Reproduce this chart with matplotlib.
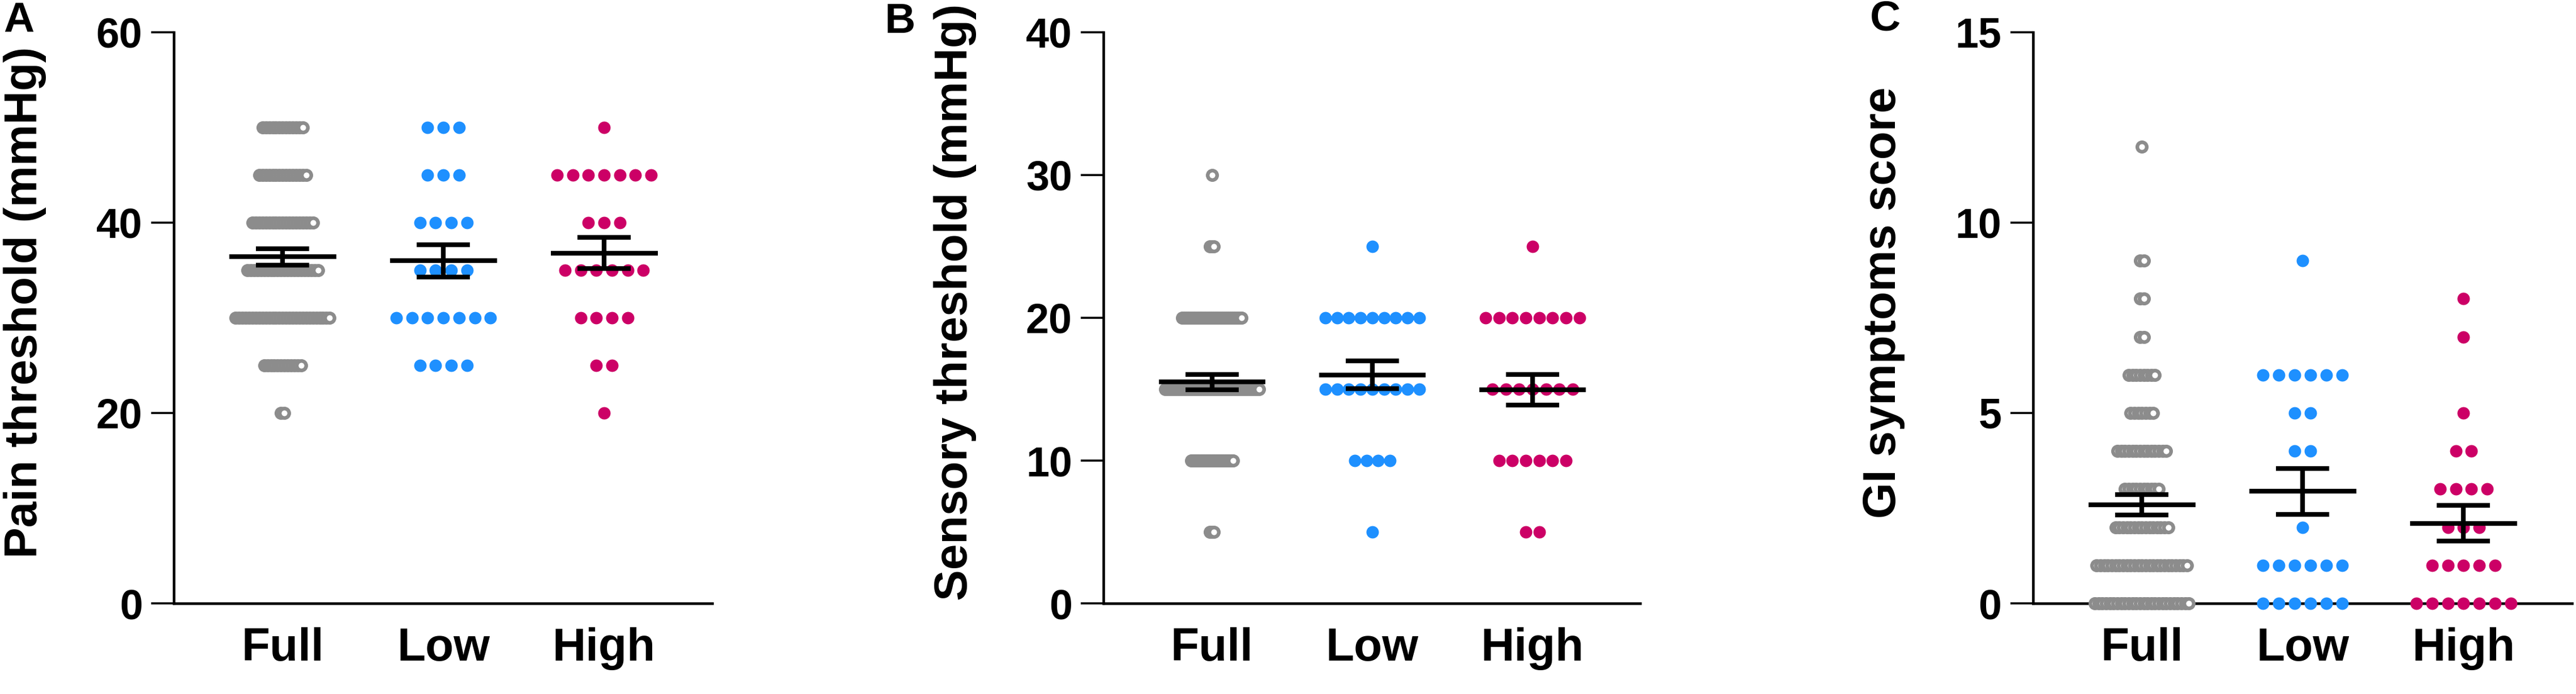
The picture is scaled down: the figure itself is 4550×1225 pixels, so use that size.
import numpy as np
import matplotlib
matplotlib.use("Agg")
import matplotlib.pyplot as plt

# group names on the x axis
groups = ["Full", "Low", "High"]

# panel A: pain threshold (mmHg), value levels and number of subjects per level
pain_levels_full = [50, 45, 40, 35, 30, 25, 20]
pain_counts_full = [13, 15, 19, 22, 29, 12, 2]
pain_levels_low = [50, 45, 40, 35, 30, 25]
pain_counts_low = [3, 3, 4, 4, 7, 4]
pain_levels_high = [50, 45, 40, 35, 30, 25, 20]
pain_counts_high = [1, 7, 3, 6, 4, 2, 1]
pain_mean = [36.4, 36.0, 36.8]
pain_sem = [0.85, 1.7, 1.65]

# panel B: sensory threshold (mmHg)
sens_levels_full = [30, 25, 20, 15, 10, 5]
sens_counts_full = [1, 3, 32, 50, 23, 3]
sens_levels_low = [25, 20, 15, 10, 5]
sens_counts_low = [1, 9, 9, 4, 1]
sens_levels_high = [25, 20, 15, 10, 5]
sens_counts_high = [1, 8, 7, 6, 2]
sens_mean = [15.5, 16.0, 14.95]
sens_sem = [0.55, 0.98, 1.08]

# panel C: GI symptoms score
gi_levels_full = [12, 9, 8, 7, 6, 5, 4, 3, 2, 1, 0]
gi_counts_full = [1, 2, 2, 2, 8, 7, 14, 10, 15, 25, 26]
gi_levels_low = [9, 6, 5, 4, 2, 1, 0]
gi_counts_low = [1, 6, 2, 2, 1, 6, 6]
gi_levels_high = [8, 7, 5, 4, 3, 2, 1, 0]
gi_counts_high = [1, 1, 1, 2, 4, 3, 5, 7]
gi_mean = [2.59, 2.94, 2.10]
gi_sem = [0.27, 0.6, 0.47]

gray = "#8c8c8c"
blue = "#1e90ff"
magenta = "#cc0066"

plt.rcParams['font.family'] = ['Liberation Sans', 'DejaVu Sans']
plt.rcParams['font.weight'] = 'bold'

BASE_STEP = 0.0985   # spacing of neighbouring points (data units)
MAX_SPAN = 0.585     # widest row allowed


def scatter_column(ax, xc, levels, counts, color, hollow):
    step = min(BASE_STEP, MAX_SPAN / max(max(counts) - 1, 1))
    xs, ys = [], []
    for lev, n in zip(levels, counts):
        off = (np.arange(n) - (n - 1) / 2) * step
        xs.extend(xc + off)
        ys.extend([lev] * n)
    if hollow:
        ax.plot(xs, ys, 'o', ms=12, mew=4.6, mec=color, mfc='white',
                ls='none', clip_on=False, zorder=3)
    else:
        ax.plot(xs, ys, 'o', ms=15.8, mew=0, mfc=color,
                ls='none', clip_on=False, zorder=3)


def mean_sem(ax, means, sems):
    x = np.arange(len(means))
    ax.hlines(means, x - 0.333, x + 0.333, colors='black', lw=6, zorder=4)
    ax.errorbar(x, means, yerr=sems, fmt='none', ecolor='black',
                elinewidth=6, capsize=34, capthick=6, zorder=4)


fig = plt.figure(figsize=(45.5, 12.25), dpi=100)

panels = [
    dict(left=0.0675, width=0.2090, letter="A", lx=33, ly=36,
         ylabel="Pain threshold (mmHg)", ylim=60, yticks=[0, 20, 40, 60],
         data=[(pain_levels_full, pain_counts_full),
               (pain_levels_low, pain_counts_low),
               (pain_levels_high, pain_counts_high)],
         mean=pain_mean, sem=pain_sem),
    dict(left=0.4284, width=0.2084, letter="B", lx=1590, ly=38,
         ylabel="Sensory threshold (mmHg)", ylim=40, yticks=[0, 10, 20, 30, 40],
         data=[(sens_levels_full, sens_counts_full),
               (sens_levels_low, sens_counts_low),
               (sens_levels_high, sens_counts_high)],
         mean=sens_mean, sem=sens_sem),
    dict(left=0.7892, width=0.2092, letter="C", lx=3330, ly=34,
         ylabel="GI symptoms score", ylim=15, yticks=[0, 5, 10, 15],
         data=[(gi_levels_full, gi_counts_full),
               (gi_levels_low, gi_counts_low),
               (gi_levels_high, gi_counts_high)],
         mean=gi_mean, sem=gi_sem),
]

colors = [gray, blue, magenta]

for p in panels:
    ax = fig.add_axes([p['left'], 0.1306, p['width'], 0.8229])
    for i, (lev, cnt) in enumerate(p['data']):
        scatter_column(ax, i, lev, cnt, colors[i], hollow=(i == 0))
    mean_sem(ax, p['mean'], p['sem'])

    ax.set_xlim(-0.677, 2.673)
    ax.set_ylim(0, p['ylim'])
    ax.set_yticks(p['yticks'])
    ax.set_xticks(range(3))
    ax.set_xticklabels(groups, fontsize=59, fontweight='bold')
    ax.tick_params(axis='x', length=0, pad=30)
    ax.tick_params(axis='y', length=29, width=2.6, pad=11, labelsize=53)
    for s in ['top', 'right']:
        ax.spines[s].set_visible(False)
    for s in ['left', 'bottom']:
        ax.spines[s].set_linewidth(3.3)
    ax.set_ylabel(p['ylabel'], fontsize=59, fontweight='bold')
    ax.yaxis.label.set_va('center')
    ax.yaxis.set_label_coords(-0.277, 0.527)

    fig.text(p['lx'] / 4550, 1 - p['ly'] / 1225, p['letter'], fontsize=54,
             fontweight='bold', ha='center', va='center')

fig.savefig("out.png", dpi=100)
